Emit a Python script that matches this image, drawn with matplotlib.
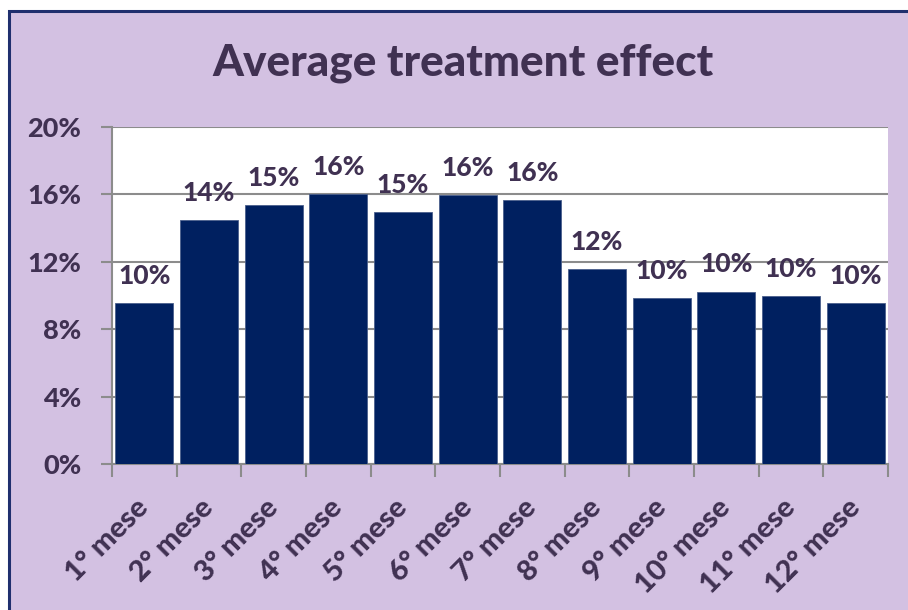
import numpy as np
import matplotlib
matplotlib.use("Agg")
import matplotlib.pyplot as plt
from matplotlib.patches import Rectangle
from matplotlib.ticker import FuncFormatter, MultipleLocator
from matplotlib.transforms import ScaledTranslation

# Data
months = ["1° mese", "2° mese", "3° mese", "4° mese", "5° mese", "6° mese",
          "7° mese", "8° mese", "9° mese", "10° mese", "11° mese", "12° mese"]
effect = [9.55, 14.48, 15.37, 16.02, 14.96, 15.96, 15.67, 11.57, 9.85, 10.23, 9.97, 9.55]
bar_labels = ["10%", "14%", "15%", "16%", "15%", "16%", "16%", "12%", "10%", "10%", "10%", "10%"]

text_col = "#403152"
bar_col = "#002060"
bg_col = "#D3C1E2"
grid_col = "#8C8C8C"
wt = 900

plt.rcParams["font.family"] = ["Lato", "DejaVu Sans"]
plt.rcParams["font.weight"] = wt

fig = plt.figure(figsize=(9.08, 6.10), dpi=100)
fig.patch.set_facecolor("white")

# lavender chart area with dark border (cropped on right/bottom)
frame = Rectangle((9 / 908, -0.05), 1.0, 1 - 11 / 610 + 0.05, transform=fig.transFigure,
                  facecolor=bg_col, edgecolor="#1F2F6E", linewidth=2.2, zorder=-10)
fig.patches.append(frame)

ax = fig.add_axes([112 / 908, 1 - 464 / 610, 776 / 908, (464 - 127) / 610])
ax.set_facecolor("white")

x = np.arange(len(months))
bars = ax.bar(x, effect, width=0.9, color=bar_col, edgecolor="#4A5F8C", linewidth=0.6, zorder=3)

for b, lab in zip(bars, bar_labels):
    ax.annotate(lab, (b.get_x() + b.get_width() / 2, b.get_height()),
                xytext=(0, 11), textcoords="offset points", ha="center", va="bottom",
                fontsize=19, fontweight=wt, color=text_col, zorder=4)

ax.set_xlim(-0.5, len(months) - 0.5)
ax.set_ylim(0, 20)
ax.yaxis.set_major_locator(MultipleLocator(4))
ax.yaxis.set_major_formatter(FuncFormatter(lambda v, p: f"{v:.0f}%"))
ax.grid(axis="y", color=grid_col, linewidth=1.5, zorder=1)

for s in ["top", "right"]:
    ax.spines[s].set_visible(False)
for s in ["left", "bottom"]:
    ax.spines[s].set_color(grid_col)
    ax.spines[s].set_linewidth(1.5)

ax.tick_params(axis="y", colors=grid_col, length=8, width=1.5, labelsize=19.5,
               labelcolor=text_col, pad=14)
ax.set_xticks(x)
ax.set_xticklabels(months, rotation=45, ha="right", rotation_mode="anchor",
                   fontsize=21, fontweight=wt, color=text_col)
ax.tick_params(axis="x", which="major", length=0, pad=22)
ax.set_xticks(np.arange(-0.5, len(months), 1), minor=True)
ax.tick_params(axis="x", which="minor", length=9, width=1.5, color=grid_col)

# nudge rotated labels left so their ends sit under the bar centres
shift = ScaledTranslation(-9 / 100, 0, fig.dpi_scale_trans)
for lbl in ax.get_xticklabels():
    lbl.set_transform(lbl.get_transform() + shift)

fig.text(463 / 908, 1 - 63 / 610, "Average treatment effect", ha="center", va="center",
         fontsize=31.8, fontweight=wt, color=text_col)

fig.savefig("out.png", dpi=100)
